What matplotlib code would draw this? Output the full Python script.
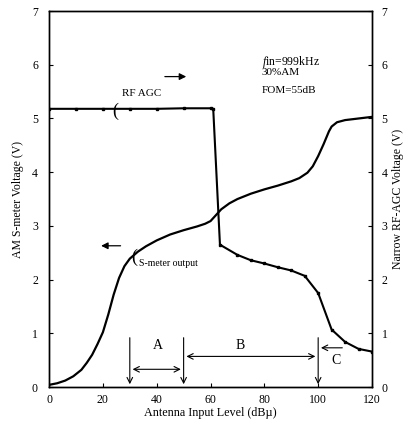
import numpy as np
import matplotlib.pyplot as plt

plt.rcParams['font.family'] = ['Liberation Serif', 'DejaVu Serif']
plt.rcParams['mathtext.fontset'] = 'custom'
plt.rcParams['mathtext.rm'] = 'Liberation Serif'
plt.rcParams['mathtext.it'] = 'Liberation Serif:italic'

# S-meter output (left axis)
smeter_x = [0, 3, 6, 9, 12, 14, 16, 18, 20, 22, 24, 26, 28, 30, 33, 36, 40, 45, 50, 55,
            58, 60, 62, 64, 67, 70, 75, 80, 85, 90, 93, 96, 98, 100, 102, 104, 105, 107,
            110, 115, 120]
smeter_y = [0.04, 0.07, 0.12, 0.2, 0.32, 0.45, 0.6, 0.8, 1.02, 1.35, 1.72, 2.03, 2.25,
            2.39, 2.52, 2.62, 2.73, 2.84, 2.92, 2.99, 3.04, 3.09, 3.2, 3.31, 3.42, 3.5,
            3.6, 3.68, 3.75, 3.83, 3.89, 3.99, 4.11, 4.3, 4.52, 4.76, 4.85, 4.93, 4.97,
            5.0, 5.03]

# Narrow RF-AGC voltage (right axis)
agc_x = [0, 10, 20, 30, 40, 50, 60, 61, 63.5, 70, 75, 80, 85, 90, 95, 100, 105, 110, 115, 120]
agc_y = [5.18, 5.18, 5.18, 5.18, 5.18, 5.19, 5.19, 5.18, 2.65, 2.46, 2.36, 2.3, 2.23, 2.17,
         2.07, 1.75, 1.07, 0.84, 0.71, 0.66]

xticks = [0, 20, 40, 60, 80, 100, 120]
yticks = [0, 1, 2, 3, 4, 5, 6, 7]

fig = plt.figure(figsize=(4.09, 4.26), dpi=100)
ax = fig.add_axes([0.12, 0.0915, 0.7895, 0.8825])
ax2 = ax.twinx()

ax.plot(smeter_x, smeter_y, color='black', lw=1.6, solid_joinstyle='round')
ax2.plot(agc_x, agc_y, color='black', lw=1.5, marker='s', markersize=1.6)

for a in (ax, ax2):
    a.set_xlim(0, 120)
    a.set_ylim(0, 7)
    a.set_yticks(yticks)
    a.tick_params(direction='in', length=3, labelsize=8.5, width=0.8)
    for s in a.spines.values():
        s.set_linewidth(1.0)
ax.set_xticks(xticks)
ax.tick_params(axis='x', pad=5)
ax.tick_params(axis='y', pad=8)
ax2.tick_params(axis='y', pad=7)

ax.set_xlabel('Antenna Input Level (dBµ)', fontsize=8.7, labelpad=1)
ax.set_ylabel('AM S-meter Voltage (V)', fontsize=8.5, labelpad=6)
ax2.set_ylabel('Narrow RF-AGC Voltage (V)', fontsize=8.5, labelpad=3, rotation=90)

# region markers
arrow_kw = dict(arrowstyle='->', color='black', lw=0.8)
dbl_kw = dict(arrowstyle='<->', color='black', lw=0.8)
for xv in (30, 50, 100):
    ax.annotate('', xy=(xv, 0.0), xytext=(xv, 0.97), arrowprops=arrow_kw)
ax.annotate('', xy=(30, 0.33), xytext=(50, 0.33), arrowprops=dbl_kw)
ax.annotate('', xy=(50, 0.57), xytext=(100, 0.57), arrowprops=dbl_kw)
ax.annotate('', xy=(100, 0.73), xytext=(110, 0.73), arrowprops=arrow_kw)
ax.text(40.5, 0.77, 'A', fontsize=10, ha='center', va='center')
ax.text(71, 0.77, 'B', fontsize=10, ha='center', va='center')
ax.text(106.5, 0.5, 'C', fontsize=10, ha='center', va='center')

# curve labels
ax.text(27, 5.47, 'RF AGC', fontsize=8, ha='left', va='center')
ax.text(24.5, 5.13, '(', fontsize=13, ha='center', va='center')
ax.annotate('', xy=(52, 5.78), xytext=(42, 5.78),
            arrowprops=dict(arrowstyle='-|>', color='black', lw=0.9, mutation_scale=10))
ax.text(33.5, 2.3, 'S-meter output', fontsize=7, ha='left', va='center')
ax.text(31.5, 2.42, '(', fontsize=13, ha='center', va='center')
ax.annotate('', xy=(18.3, 2.63), xytext=(27.6, 2.63),
            arrowprops=dict(arrowstyle='-|>', color='black', lw=0.9, mutation_scale=10))

ax.text(79, 6.06, r'$\it{f}$in=999kHz', fontsize=8.5, ha='left', va='center')
ax.text(79, 5.85, '30%AM', fontsize=8, ha='left', va='center')
ax.text(79, 5.53, 'FOM=55dB', fontsize=8, ha='left', va='center')

fig.savefig('out.png', dpi=100)
